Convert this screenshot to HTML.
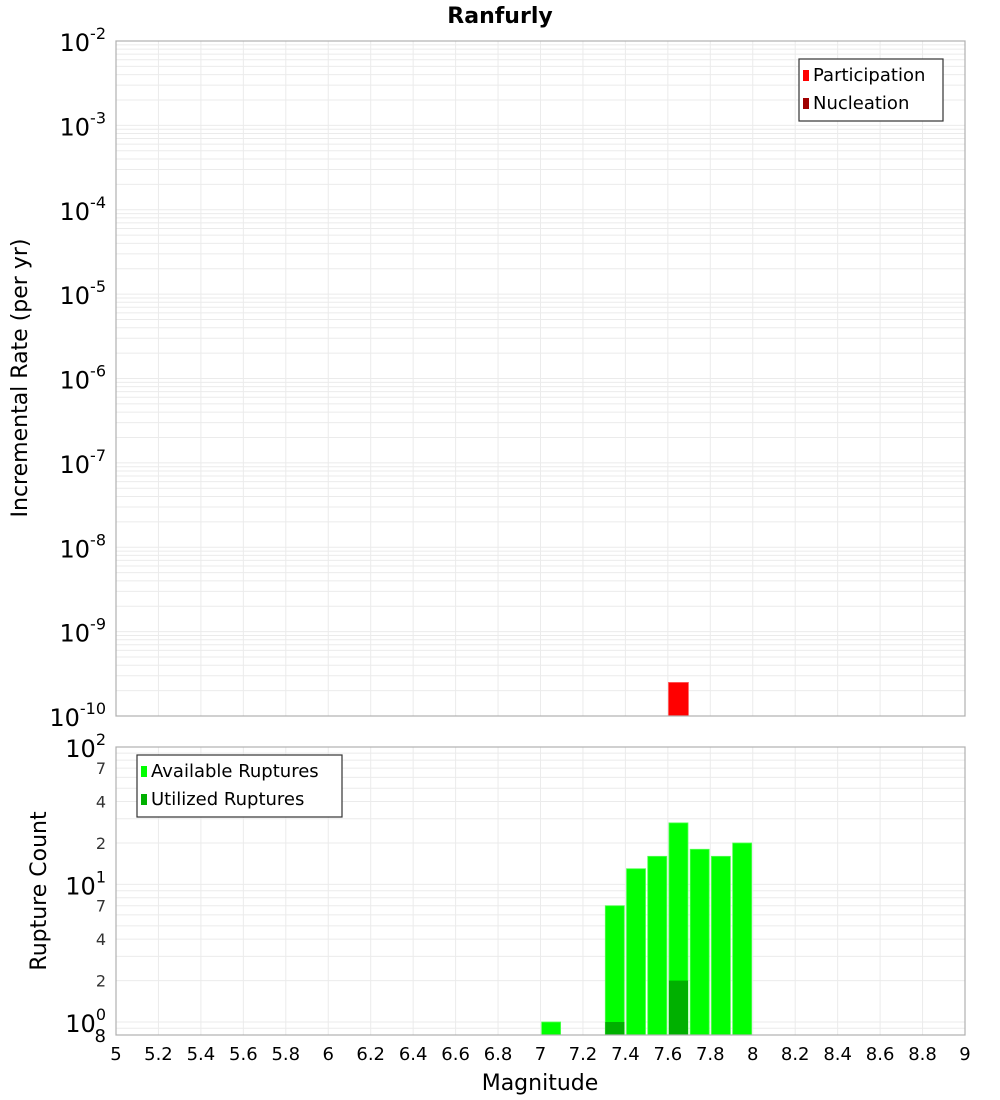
<!DOCTYPE html>
<html><head><meta charset="utf-8">
<style>
html,body{margin:0;padding:0;background:#fff;}
svg{display:block;font-family:"DejaVu Sans","Liberation Sans",sans-serif;}
</style></head>
<body>
<svg id="chart" width="1000" height="1100" viewBox="0 0 1000 1100" xmlns="http://www.w3.org/2000/svg">
<text x="500" y="23" text-anchor="middle" font-size="22" font-weight="bold">Ranfurly</text>
<g id="gtop"></g>
<g id="gbot"></g>
<text transform="translate(27,378) rotate(-90)" text-anchor="middle" font-size="22">Incremental Rate (per yr)</text>
<text transform="translate(46,891) rotate(-90)" text-anchor="middle" font-size="22">Rupture Count</text>
<text x="540" y="1090" text-anchor="middle" font-size="22">Magnitude</text>
</svg>
<script>
// data
const xTicks = [5,5.2,5.4,5.6,5.8,6,6.2,6.4,6.6,6.8,7,7.2,7.4,7.6,7.8,8,8.2,8.4,8.6,8.8,9];
const participationMags = [7.65];
const participationRates = [2.5e-10];
const availableMags = [7.05,7.35,7.45,7.55,7.65,7.75,7.85,7.95];
const availableCounts = [1,7,13,16,28,18,16,20];
const utilizedMags = [7.35,7.65];
const utilizedCounts = [1,2];
const topExps = [-2,-3,-4,-5,-6,-7,-8,-9,-10];

const NS="http://www.w3.org/2000/svg";
const L=116,R=965;
const xs=m=>L+(m-5)/4*(R-L);
const T1=41,B1=716;
const yTop=v=>T1+(-2-Math.log10(v))*(B1-T1)/8;
const T2=747,B2=1035;
const yBot=v=>1022-Math.log10(v)*137.6;
function mk(tag,attrs,parent,text){const e=document.createElementNS(NS,tag);for(const k in attrs)e.setAttribute(k,attrs[k]);if(text!==undefined)e.textContent=text;parent.appendChild(e);return e;}
const gTop=document.getElementById('gtop'), gBot=document.getElementById('gbot');

// grids
function vgrid(g,T,B){for(let m=5;m<=9.001;m+=0.2){const l=mk('line',{x1:xs(m),x2:xs(m),y1:T,y2:B,stroke:'#ebebeb','stroke-width':1},g);

}}
vgrid(gTop,T1,B1);vgrid(gBot,T2,B2);
for(let e=-10;e<-2;e++){for(let k=1;k<10;k++){const y=yTop(k*Math.pow(10,e));const l=mk('line',{x1:L,x2:R,y1:y,y2:y,stroke:'#ebebeb','stroke-width':1},gTop);

}}
for(let e=-1;e<2;e++){for(let k=1;k<10;k++){const v=k*Math.pow(10,e);const y=yBot(v);if(y>B2||y<T2)continue;const l=mk('line',{x1:L,x2:R,y1:y,y2:y,stroke:'#ebebeb','stroke-width':1},gBot);

}}

// top bars
participationMags.forEach((m,i)=>{const y=yTop(participationRates[i]);const r=mk('rect',{x:xs(m)-10,y:y,width:20,height:B1-y,fill:'#ff0000',stroke:'#ff6060','stroke-width':0.8},gTop);

});
// bottom bars
availableMags.forEach((m,i)=>{const y=yBot(availableCounts[i]);const r=mk('rect',{x:xs(m)-9.5,y:y,width:19,height:B2-y,fill:'#00ff00',stroke:'#55ff55','stroke-width':0.8},gBot);

});
utilizedMags.forEach((m,i)=>{const y=yBot(utilizedCounts[i]);const r=mk('rect',{x:xs(m)-9.5,y:y,width:19,height:B2-y,fill:'#00b000'},gBot);

});

// frames
const f1=mk('rect',{x:L,y:T1,width:R-L,height:B1-T1,fill:'none',stroke:'#b0b0b0','stroke-width':1.2},gTop);


const f2=mk('rect',{x:L,y:T2,width:R-L,height:B2-T2,fill:'none',stroke:'#b0b0b0','stroke-width':1.2},gBot);



// top y tick labels
topExps.forEach(e=>{const y=yTop(Math.pow(10,e));const t=mk('text',{x:106,y:y+10,'text-anchor':'end','font-size':24},gTop);


mk('tspan',{},t,'10');mk('tspan',{dy:-12,'font-size':16},t,String(e));});
// bottom y tick labels
[[100,'2'],[10,'1'],[1,'0']].forEach(([v,e])=>{const y=yBot(v);const t=mk('text',{x:106,y:y+10,'text-anchor':'end','font-size':24},gBot);


mk('tspan',{},t,'10');mk('tspan',{dy:-12,'font-size':16},t,e);});
[7,4,2,70,40,20].forEach(v=>{const y=yBot(v);const t=mk('text',{x:106,y:y+6,'text-anchor':'end','font-size':16,fill:'#333'},gBot,String(v>9?v/10:v));

});
const t8=mk('text',{x:106,y:1042,'text-anchor':'end','font-size':18},gBot,'8');


// x tick labels
xTicks.forEach(m=>{const t=mk('text',{x:xs(m),y:1060,'text-anchor':'middle','font-size':18},gBot,String(m));

});

// legends
function legend(g,x,y,w,items,name){const lg=mk('g',{},g);


mk('rect',{x:x,y:y,width:w,height:items.length*28+6,fill:'#fff',stroke:'#333','stroke-width':1.2},lg);
items.forEach((it,i)=>{mk('rect',{x:x+4,y:y+11+i*28,width:6,height:11,fill:it[1]},lg);
const t=mk('text',{x:x+14,y:y+22+i*28,'font-size':18},lg,it[0]);

});}
legend(gTop,799,59,144,[['Participation','#ff0000'],['Nucleation','#a00000']],'top-legend');
legend(gBot,137,755,205,[['Available Ruptures','#00ff00'],['Utilized Ruptures','#00b000']],'bottom-legend');
</script>
</body></html>
